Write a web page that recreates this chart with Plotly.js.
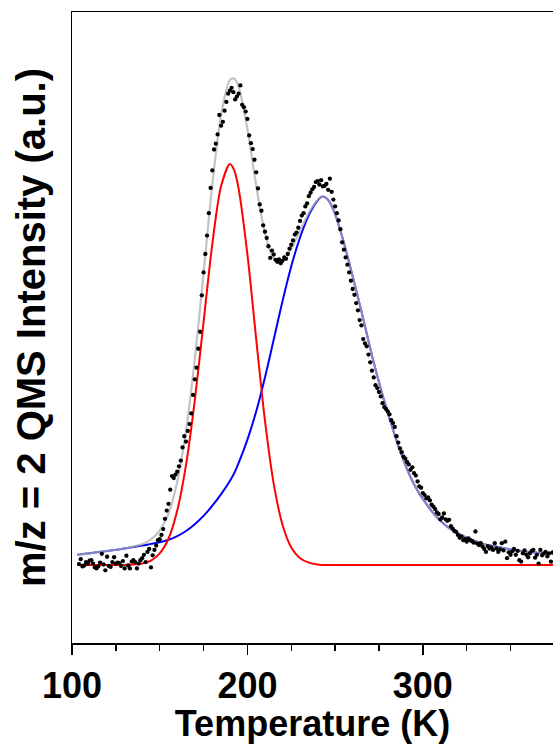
<!DOCTYPE html>
<html>
<head>
<meta charset="utf-8">
<script src="https://cdn.plot.ly/plotly-3.0.1.min.js"></script>
<style>
html,body{margin:0;padding:0;background:#fff;overflow:hidden;}
#chart{width:553px;height:744px;}
</style>
</head>
<body>
<div id="chart"></div>
<script>
// Measured data points: temperature (K) and m/z = 2 QMS intensity (a.u.)
const tempData = [104,105,106,107,108,109,110,111,112,113,114,115,116,117,118,119,120,121,122,123,124,125,126,127,128,129,130,131,132,133,134,135,136,137,138,139,140,141,142,143,144,145,146,147,148,149,150,151,152,153,154,155,156,157,158,159,160,161,162,163,164,165,166,167,168,169,170,171,172,173,174,175,176,177,178,179,180,181,182,183,184,185,186,187,188,189,190,191,192,193,194,195,196,197,198,199,200,201,202,203,204,205,206,207,208,209,210,211,212,213,214,215,216,217,218,219,220,221,222,223,224,225,226,227,228,229,230,231,232,233,234,235,236,237,238,239,240,241,242,243,244,245,246,247,248,249,250,251,252,253,254,255,256,257,258,259,260,261,262,263,264,265,266,267,268,269,270,271,272,273,274,275,276,277,278,279,280,281,282,283,284,285,286,287,288,289,290,291,292,293,294,295,296,297,298,299,300,301,302,303,304,305,306,307,308,309,310,311,312,313,314,315,316,317,318,319,320,321,322,323,324,325,326,327,328,329,330,331,332,333,334,335,336,337,338,339,340,341,342,343,344,345,346,347,348,349,350,351,352,353,354,355,356,357,358,359,360,361,362,363,364,365,366,367,368,369,370,371,372,373,374];
const intensityData = [0.2,1.2,-0.3,-0.1,0.6,0.3,0.9,1.0,0.3,-0.5,-0.7,-0.3,0.5,2.3,0.1,-1.1,1.7,-0.2,-0.4,0.6,1.6,0.3,0.5,0.4,-0.2,0.8,-0.7,1.9,-0.1,-0.7,0.7,1.0,0.6,-0.7,0.3,1.0,1.4,2.1,0.6,2.7,3.3,-0.5,2.0,3.1,4.0,5.1,5.3,6.2,7.4,9.5,11.2,12.6,15.5,18.3,17.9,18.6,19.2,20.3,21.5,24.2,26.5,25.4,27.6,29.0,31.2,35.0,38.2,40.6,44.5,48.0,55.5,60.2,64.0,67.8,72.4,77.6,81.2,85.5,86.7,88.6,92.6,90.4,91.2,93.5,95.3,97.0,97.6,98.2,97.3,95.8,96.4,97.0,98.7,94.7,94.2,93.3,91.8,88.4,86.8,85.6,83.4,80.8,77.5,74.2,72.9,69.9,68.6,67.3,65.6,63.2,64.7,63.9,62.8,62.4,62.9,62.1,62.6,63.3,63.0,64.0,65.1,65.9,66.8,68.0,68.4,69.4,70.8,71.9,72.4,73.8,74.4,75.9,76.6,77.3,77.8,78.8,79.0,78.3,79.2,77.9,78.0,78.4,77.2,79.5,76.8,75.2,73.8,72.4,70.9,69.1,66.4,64.9,63.3,61.8,60.2,58.5,56.8,55.6,53.9,52.4,50.4,49.3,46.5,45.6,45.0,43.3,41.7,40.0,38.6,37.0,36.4,35.6,34.7,33.3,32.5,32.1,31.6,31.0,29.8,29.2,28.4,26.5,25.2,24.0,23.2,22.3,21.9,21.2,20.7,19.6,20.1,18.9,18.4,17.2,16.2,15.9,14.8,14.4,13.7,13.9,13.3,12.4,12.0,11.5,10.8,10.5,9.4,9.8,10.6,9.4,9.1,9.3,8.0,7.5,7.0,6.8,6.2,5.6,5.9,5.1,5.3,4.8,5.5,5.1,4.9,4.6,6.9,4.4,4.1,4.5,3.8,3.3,2.7,3.9,3.4,3.6,3.1,4.5,3.4,2.7,3.2,4.5,3.0,4.8,1.4,2.6,2.1,2.8,3.3,2.1,2.9,1.0,0.7,2.4,3.0,2.1,1.6,2.4,2.9,3.1,1.5,2.1,0.3,3.1,2.0,2.4,2.7,1.8,2.4,0.7,2.6];

// Fit curves
const tempFit = [103,110,120,130,140,145,150,155,160,165,170,175,180,185,190,192.5,195,200,205,210,215,220,225,230,235,240,242.5,245,247.5,250,252.5,255,257.5,260,262.5,265,267.5,270,272.5,275,277.5,280,282.5,285,287.5,290,292.5,295,297.5,300,305,310,315,320,325,330,335,340,350,360,374.2];
const fitRed = [0,0,0,0,0.3,0.9,2.4,5.4,11.2,20.6,33.9,50.0,66.1,78.0,82.5,81.2,77.4,63.9,46.5,29.7,16.7,8.3,3.6,1.4,0.5,0.1,0,0,0,0,0,0,0,0,0,0,0,0,0,0,0,0,0,0,0,0,0,0,0,0,0,0,0,0,0,0,0,0,0,0,0];
const fitBlue = [2.1,2.4,2.9,3.4,4.0,4.35,4.7,5.2,5.95,7.0,8.4,10.1,12.2,14.6,17.3,18.9,21.0,25.8,31.6,38.6,46.4,54.3,61.5,67.4,72.0,75.0,75.8,75.5,74.3,72.2,69.4,66.3,62.9,59.4,55.8,52.2,48.4,44.6,41.0,37.6,34.4,31.3,28.4,25.6,23.0,20.6,18.5,16.6,15.0,13.6,11.1,9.1,7.6,6.5,5.6,4.9,4.3,3.9,3.2,2.7,2.3];
const fitSum = [2.1,2.4,2.9,3.4,4.3,5.25,7.1,10.6,17.15,27.6,42.3,60.1,78.3,92.6,99.8,100.1,98.4,89.7,78.1,68.3,63.1,62.6,65.1,68.8,72.5,75.1,75.8,75.5,74.3,72.2,69.4,66.3,62.9,59.4,55.8,52.2,48.4,44.6,41.0,37.6,34.4,31.3,28.4,25.6,23.0,20.6,18.5,16.6,15.0,13.6,11.1,9.1,7.6,6.5,5.6,4.9,4.3,3.9,3.2,2.7,2.3];

const xTickVals = [100,200,300];
const xTickText = ['100','200','300'];

const traces = [
  {x: tempFit, y: fitBlue, mode:'lines', line:{color:'#0000ff', width:2, shape:'spline', smoothing:0.8}, hoverinfo:'skip', showlegend:false},
  {x: tempFit, y: fitRed, mode:'lines', line:{color:'#ff0000', width:2, shape:'spline', smoothing:0.8}, hoverinfo:'skip', showlegend:false},
  {x: tempFit, y: fitSum, mode:'lines', line:{color:'rgba(175,175,175,0.75)', width:2.2, shape:'spline', smoothing:0.8}, hoverinfo:'skip', showlegend:false},
  {x: tempData, y: intensityData, mode:'markers', marker:{color:'#000', size:4.3}, showlegend:false}
];

const fontMain = {family:'Liberation Sans, Arial, Helvetica, sans-serif', size:36, color:'#000', weight:'bold'};
const fontYTitle = {family:'Liberation Sans, Arial, Helvetica, sans-serif', size:40, color:'#000', weight:'bold'};

const layout = {
  width:553, height:744,
  margin:{l:72, r:0, t:12, b:101, pad:0},
  paper_bgcolor:'#fff', plot_bgcolor:'#fff',
  showlegend:false,
  xaxis:{
    range:[100,374.2],
    tickmode:'array', tickvals:xTickVals, ticktext:xTickText,
    ticks:'outside', ticklen:10, tickwidth:1.5, tickcolor:'#000',
    minor:{tick0:100, dtick:25, ticks:'outside', ticklen:6, tickwidth:1.5, tickcolor:'#000', showgrid:false},
    showline:true, linewidth:1.5, linecolor:'#000', mirror:true,
    showgrid:false, zeroline:false,
    tickfont:fontMain,
    title:{text:'Temperature (K)', font:fontMain, standoff:2}
  },
  yaxis:{
    range:[-16.05,113.8],
    showticklabels:false, ticks:'',
    showline:true, linewidth:1.5, linecolor:'#000', mirror:false,
    showgrid:false, zeroline:false,
    title:{text:'m/z = 2 QMS Intensity (a.u.)', font:fontYTitle, standoff:12}
  }
};

Plotly.newPlot('chart', traces, layout, {displayModeBar:false, staticPlot:true});
</script>
</body>
</html>
